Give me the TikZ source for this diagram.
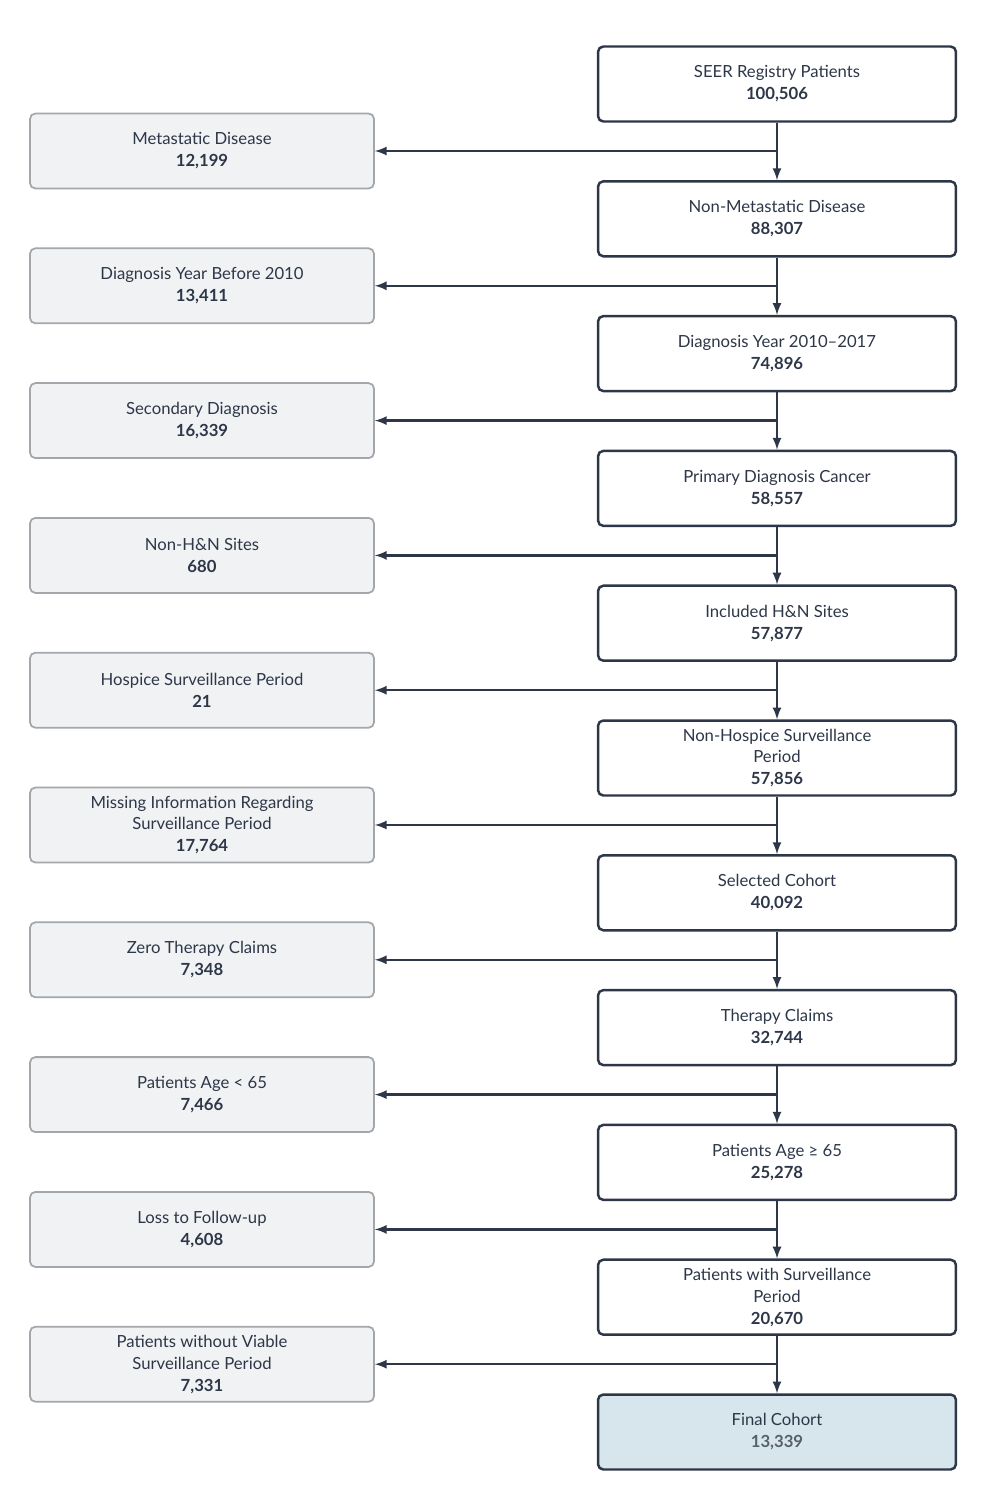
\documentclass[tikz,border=0pt]{standalone}
\usepackage{fontspec}
\setmainfont{Lato}
\usetikzlibrary{positioning}
\definecolor{ink}{HTML}{2D3748}
\definecolor{lgray}{HTML}{F1F2F4}
\definecolor{lborder}{HTML}{A3A6AA}
\definecolor{final}{HTML}{D7E5EC}
\tikzset{>=latex,
  keep/.style={draw=ink,line width=1.4pt,fill=white,rounded corners=3pt,
    minimum width=7.16cm,minimum height=1.5cm,align=center,text=ink,
    font=\fontsize{9.5}{12.5}\selectfont},
  drop/.style={draw=lborder,line width=1pt,fill=lgray,rounded corners=3pt,
    minimum width=6.88cm,minimum height=1.5cm,align=center,text=ink,
    font=\fontsize{9.5}{12.5}\selectfont},
  flow/.style={->,draw=ink,line width=1.3pt}}
\begin{document}
\begin{tikzpicture}[x=0.02cm,y=-0.02cm]
  \useasboundingbox (0,0) rectangle (986,1509);
  % kept patients
  \foreach \i/\t/\n in {0/SEER Registry Patients/100{,}506,
      1/Non-Metastatic Disease/88{,}307,
      2/Diagnosis Year 2010--2017/74{,}896,
      3/Primary Diagnosis Cancer/58{,}557,
      4/Included H\&N Sites/57{,}877,
      5/Non-Hospice Surveillance\\Period/57{,}856,
      6/Selected Cohort/40{,}092,
      7/Therapy Claims/32{,}744,
      8/Patients Age ≥ 65/25{,}278,
      9/Patients with Surveillance\\Period/20{,}670} {
    \node[keep] (k\i) at (777,84+134.8*\i) {\t\\\textbf{\n}};
  }
  \node[keep,fill=final] (k10) at (777,1432) {Final Cohort\\\textbf{\color{ink!80}13,339}};
  % excluded patients
  \foreach \i/\t/\n in {0/Metastatic Disease/12{,}199,
      1/Diagnosis Year Before 2010/13{,}411,
      2/Secondary Diagnosis/16{,}339,
      3/Non-H\&N Sites/680,
      4/Hospice Surveillance Period/21,
      5/Missing Information Regarding\\Surveillance Period/17{,}764,
      6/Zero Therapy Claims/7{,}348,
      7/Patients Age < 65/7{,}466,
      8/Loss to Follow-up/4{,}608,
      9/Patients without Viable\\Surveillance Period/7{,}331} {
    \node[drop] (d\i) at (202,151+134.8*\i) {\t\\\textbf{\n}};
  }
  % connectors
  \foreach \i [evaluate=\i as \j using int(\i+1)] in {0,...,9} {
    \draw[flow] (k\i) -- (k\j);
    \coordinate (s\i) at (k\i.south |- d\i.east);
    \draw[flow] (s\i) -- (d\i.east);
  }
\end{tikzpicture}
\end{document}
